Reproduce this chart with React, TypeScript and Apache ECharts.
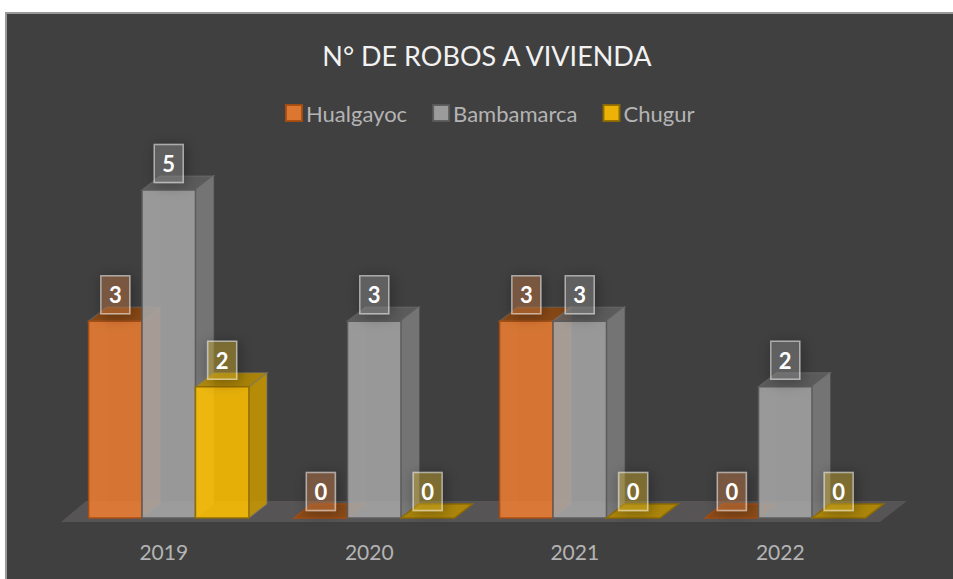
import React, { useEffect, useRef } from "react";
import * as echarts from "echarts";

const years = ["2019", "2020", "2021", "2022"];
const hualgayoc = [3, 0, 3, 0];
const bambamarca = [5, 3, 3, 2];
const chugur = [2, 0, 0, 0];
const seriesNames = ["Hualgayoc", "Bambamarca", "Chugur"];
const FONT = "Lato, Carlito, 'Open Sans', sans-serif";

const palettes = [
  { front: "#ED7D31", side: "#B85A16", top: "#93490F", stroke: "#A84C10", box: "rgba(228,140,80,0.3)" },
  { front: "#A5A5A5", side: "#7C7C7C", top: "#5F5F5F", stroke: "#5A5A5A", box: "rgba(170,170,170,0.28)" },
  { front: "#FFC000", side: "#C79600", top: "#B98D00", stroke: "#8F6C00", box: "rgba(235,195,40,0.3)" },
];

const ALPHA = 0.87;

function makeRender(idx: number) {
  const pal = palettes[idx];
  return (_params: any, api: any) => {
    const cat = api.value(0);
    const val = api.value(1);
    const base = api.coord([cat, 0]);
    const topPt = api.coord([cat, val]);
    const band = api.size([1, 0])[0];
    const w = band * 0.26;
    const dx = band * 0.0875;
    const dy = 14;
    const cx = base[0] + (idx - 1) * w;
    const x0 = cx - w / 2;
    const x1 = cx + w / 2;
    const yb = base[1];
    const yt = topPt[1];
    const poly = (points: number[][], fill: string, opacity: number, stroke?: string) => ({
      type: "polygon",
      shape: { points },
      style: {
        fill,
        fillOpacity: opacity,
        stroke: stroke || pal.stroke,
        strokeOpacity: stroke === "none" ? 0 : 0.95,
        lineWidth: stroke === "none" ? 0 : 1.5,
      },
    });
    const children: any[] = [];
    if (val > 0) {
      children.push(
        poly([[x0, yb], [x0 + dx, yb - dy], [x1 + dx, yb - dy], [x1, yb]], "#ffffff", 0.07, "none"),
        poly([[x0, yb], [x0 + dx, yb - dy], [x0 + dx, yt - dy], [x0, yt]], "#ffffff", 0.06, "none"),
        poly([[x1, yb], [x1 + dx, yb - dy], [x1 + dx, yt - dy], [x1, yt]], pal.side, ALPHA, "rgba(120,120,120,0.5)"),
        poly([[x0, yt], [x0 + dx, yt - dy], [x1 + dx, yt - dy], [x1, yt]], pal.top, ALPHA, "rgba(120,120,120,0.4)"),
        poly([[x0, yb], [x0, yt], [x1, yt], [x1, yb]], pal.front, ALPHA),
      );
    } else {
      children.push(poly([[x0, yb], [x0 + dx, yb - dy], [x1 + dx, yb - dy], [x1, yb]], pal.top, ALPHA));
    }
    const boxW = 29;
    const boxH = 38;
    const boxBottom = yt - 7.5;
    children.push({
      type: "rect",
      z2: 50,
      shape: { x: cx - boxW / 2, y: boxBottom - boxH, width: boxW, height: boxH },
      style: {
        fill: pal.box,
        stroke: "rgba(255,255,255,0.5)",
        lineWidth: 1.5,
        shadowBlur: 14,
        shadowOffsetX: 2,
        shadowOffsetY: 2,
        shadowColor: "rgba(0,0,0,0.9)",
      },
    });
    children.push({
      type: "text",
      z2: 51,
      style: {
        x: cx,
        y: boxBottom - boxH / 2,
        text: String(val),
        fill: "#ffffff",
        font: `bold 22px ${FONT}`,
        textAlign: "center",
        textVerticalAlign: "middle",
      },
    });
    return { type: "group", children };
  };
}

export default function App() {
  const ref = useRef<HTMLDivElement | null>(null);
  useEffect(() => {
    const chart = echarts.init(ref.current!, undefined, { renderer: "svg" });
    const values = [hualgayoc, bambamarca, chugur];
    chart.setOption({
      animation: false,
      backgroundColor: "#ffffff",
      title: {
        text: "N° DE ROBOS A VIVIENDA",
        left: 482,
        top: 37,
        textAlign: "center",
        textStyle: { color: "#f2f2f2", fontFamily: FONT, fontSize: 27, fontWeight: "normal" },
      },
      legend: {
        left: 280,
        top: 97,
        itemWidth: 16,
        itemHeight: 16,
        itemGap: 25,
        textStyle: { color: "#b4b4b4", fontFamily: FONT, fontSize: 22, padding: [0, 0, 0, -1] },
        data: seriesNames.map((name, i) => ({
          name,
          icon: "rect",
          itemStyle: { color: palettes[i].front, opacity: 0.9, borderColor: palettes[i].stroke, borderWidth: 2 },
        })),
      },
      grid: { left: 66, top: 190, width: 822, height: 328, containLabel: false },
      xAxis: {
        type: "category",
        data: years,
        axisLine: { show: false },
        axisTick: { show: false },
        axisLabel: { color: "#b4b4b4", fontFamily: FONT, fontSize: 21, margin: 23, padding: [0, 10, 0, 0] },
      },
      yAxis: { type: "value", min: 0, max: 5, show: false, splitLine: { show: false } },
      graphic: [
        { type: "rect", z: -3, shape: { x: 5, y: 12, width: 948, height: 567 }, style: { fill: "#9a9a9a" } },
        { type: "rect", z: -2, shape: { x: 7, y: 14, width: 946, height: 565 }, style: { fill: "#404040" } },
        {
          type: "polygon",
          z: -1,
          shape: { points: [[61, 522], [86, 501], [907, 501], [880, 522]] },
          style: { fill: "#565454" },
        },
      ],
      series: seriesNames.map((name, i) => ({
        type: "custom",
        name,
        clip: false,
        z: 2 + i,
        coordinateSystem: "cartesian2d",
        encode: { x: 0, y: 1 },
        itemStyle: { color: palettes[i].front },
        renderItem: makeRender(i),
        data: values[i].map((v, c) => [c, v]),
      })),
    });
    return () => chart.dispose();
  }, []);
  return <div ref={ref} style={{ position: "absolute", left: 0, top: 0, width: 953, height: 579 }} />;
}
